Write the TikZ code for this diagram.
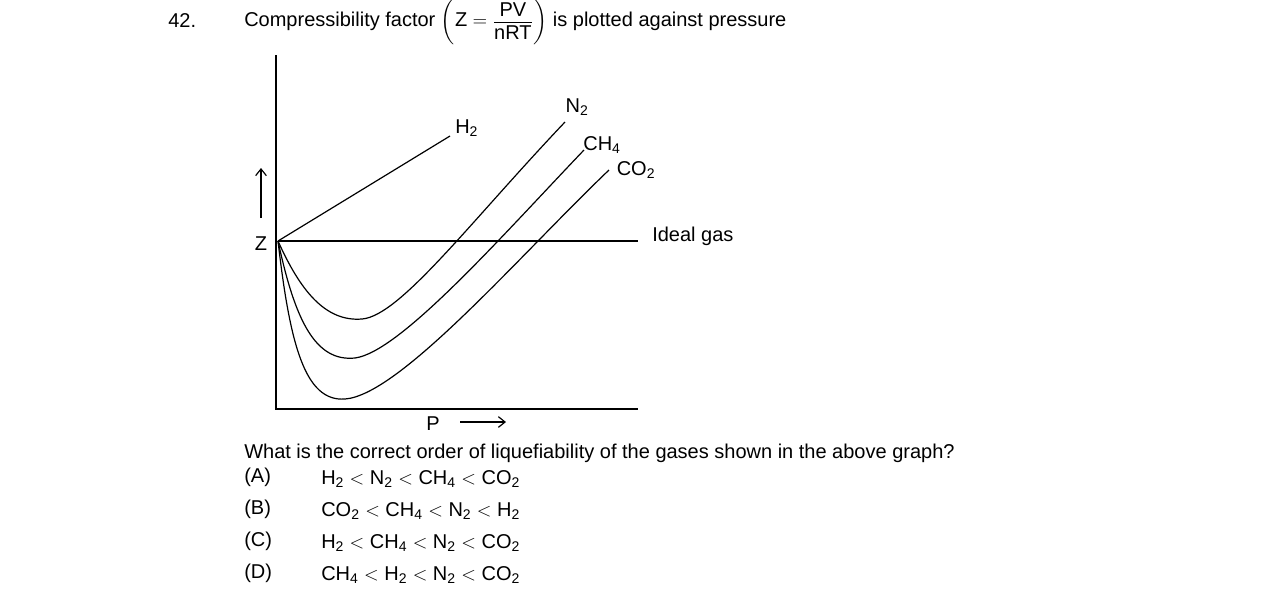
\documentclass[tikz,border=0pt]{standalone}
\usepackage{amsmath}
\usepackage{fontspec}
\setmainfont{Liberation Sans}
\usetikzlibrary{arrows.meta}
\newcommand{\sbt}[1]{$_{\text{#1}}$}
\begin{document}
\begin{tikzpicture}[x=0.75pt,y=-0.75pt,every node/.style={font=\fontsize{15}{17}\selectfont,inner sep=0pt},
 crv/.style={line width=0.9pt}, arr/.style={-{Straight Barb[length=5pt,width=8pt]}}]
\useasboundingbox (0,0) rectangle (1275,608);
\node[anchor=west] (num) at (168,21) {42.};
\node[anchor=west] (q) at (244,22) {Compressibility factor $\left(\text{Z}=\dfrac{\raisebox{-2pt}{\text{PV}}}{\text{nRT}}\right)$ is plotted against pressure};
% axes
\coordinate (top) at (276,55);
\coordinate (org) at (276,409);
\coordinate (xend) at (638,409);
\draw[crv] (top) -- (org) -- (xend);
\coordinate (z) at (278,241);
\coordinate (ig) at (638,241);
\draw[crv] (z) -- (ig);
\node[anchor=west] (igl) at (652,236) {Ideal gas};
\node (zl) at (261,244) {Z};
\coordinate (ua) at (261,218); \coordinate (ub) at (261,168);
\draw[crv,arr] (ua) -- (ub);
\node (pl) at (433,424) {P};
\coordinate (pa) at (460,422); \coordinate (pb) at (506,422);
\draw[crv,arr] (pa) -- (pb);
% H2
\coordinate (h2e) at (450,136);
\draw[crv] (z) -- (h2e);
\node[anchor=west] (h2) at (455,128) {H\sbt{2}};
% curves
\coordinate (n2e) at (565,122);
\coordinate (ch4e) at (584,150);
\coordinate (co2e) at (609,170);
\draw[crv] (z) .. controls (300,290) and (325,322) .. (362,319) .. controls (400,316) and (470,222) .. (n2e);
\draw[crv] (z) .. controls (295,320) and (315,362) .. (355,358) .. controls (400,352) and (500,238) .. (ch4e);
\draw[crv] (z) .. controls (290,345) and (305,402) .. (345,399) .. controls (400,395) and (520,255) .. (co2e);
\node (n2) at (577,107) {N\sbt{2}};
\node (ch4) at (602,145) {CH\sbt{4}};
\node (co2) at (636,170) {CO\sbt{2}};
% question
\node[anchor=west] (qq) at (244,453) {What is the correct order of liquefiability of the gases shown in the above graph?};
\node[anchor=west] (a) at (244,477) {(A)};
\node[anchor=west] (b) at (244,509) {(B)};
\node[anchor=west] (c) at (244,541) {(C)};
\node[anchor=west] (d) at (244,573) {(D)};
\node[anchor=west] (ao) at (321,479) {H\sbt{2} $<$ N\sbt{2} $<$ CH\sbt{4} $<$ CO\sbt{2}};
\node[anchor=west] (bo) at (321,511) {CO\sbt{2} $<$ CH\sbt{4} $<$ N\sbt{2} $<$ H\sbt{2}};
\node[anchor=west] (co) at (321,543) {H\sbt{2} $<$ CH\sbt{4} $<$ N\sbt{2} $<$ CO\sbt{2}};
\node[anchor=west] (do) at (321,575) {CH\sbt{4} $<$ H\sbt{2} $<$ N\sbt{2} $<$ CO\sbt{2}};
\end{tikzpicture}
\end{document}
